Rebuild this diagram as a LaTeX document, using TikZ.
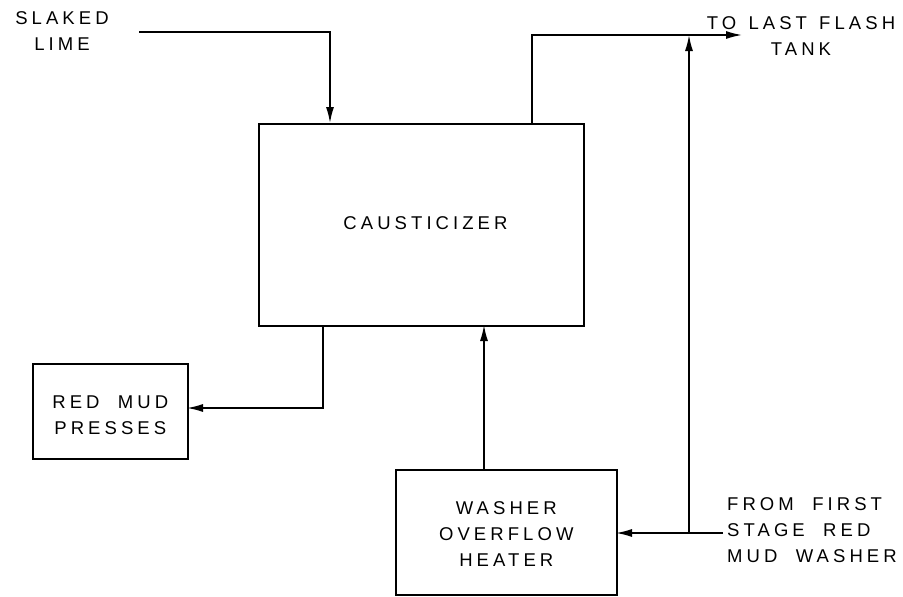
\documentclass[tikz,border=0pt]{standalone}
\usepackage{fontspec}
\setmainfont{Liberation Sans}[LetterSpace=22]
\usetikzlibrary{arrows.meta}
\tikzset{
  unitbox/.style={draw, line width=2pt, inner sep=0pt, anchor=north west},
  lbl/.style={font=\fontsize{18.5}{26}\selectfont, inner sep=0pt, align=center},
  flow/.style={line width=1.5pt, -{Latex[length=16pt,width=8pt]}},
}
\newcommand{\wgap}{\ \hspace{3pt}}
\begin{document}
\begin{tikzpicture}[x=1pt,y=-1pt]
\useasboundingbox (0,0) rectangle (903,597);
% boxes
\node[unitbox, minimum width=325pt, minimum height=202pt] (caus) at (258,123) {};
\node[lbl] at ([xshift=4pt,yshift=2pt]caus.center) {CAUSTICIZER};
\node[unitbox, line width=1.6pt, minimum width=155pt, minimum height=95pt] (rmp) at (32,363) {};
\node[lbl] at ([yshift=-4pt]rmp.center) {RED\ \ MUD\\PRESSES};
\node[unitbox, line width=1.6pt, minimum width=221pt, minimum height=125pt] (woh) at (395,469) {};
\node[lbl] at ([yshift=-2pt]woh.center) {WASHER\\OVERFLOW\\HEATER};
% labels
\node[lbl] (sl) at (62,31) {SLAKED\\LIME};
\node[lbl] (tlf) at (801,36) {TO\wgap LAST\wgap FLASH\\TANK};
\node[lbl, align=left, anchor=west] (ffs) at (727,530) {FROM\ \ FIRST\\STAGE\ \ RED\\MUD\ \ WASHER};
% coordinates
\coordinate (slstart) at (139,32);
\coordinate (slcorner) at (330,32);
\coordinate (slend) at (330,123);
\coordinate (topout) at (532,123);
\coordinate (topcorner) at (532,35);
\coordinate (topend) at (742,35);
\coordinate (junc) at (689,533);
\coordinate (juncTop) at (689,35);
\coordinate (ffsstart) at (723,533);
\coordinate (heaterin) at (616,533);
\coordinate (botout) at (323,325);
\coordinate (botcorner) at (323,408);
\coordinate (rmpin) at (187,408);
\coordinate (wohout) at (484,469);
\coordinate (causin) at (484,325);
% connectors
\draw[flow] (slstart) -- (slcorner) -- (slend);
\draw[flow] (topout) -- (topcorner) -- (topend);
\draw[flow] (junc) -- (juncTop);
\draw[flow] (ffsstart) -- (heaterin);
\draw[flow] (botout) -- (botcorner) -- (rmpin);
\draw[flow] (wohout) -- (causin);
\end{tikzpicture}
\end{document}
